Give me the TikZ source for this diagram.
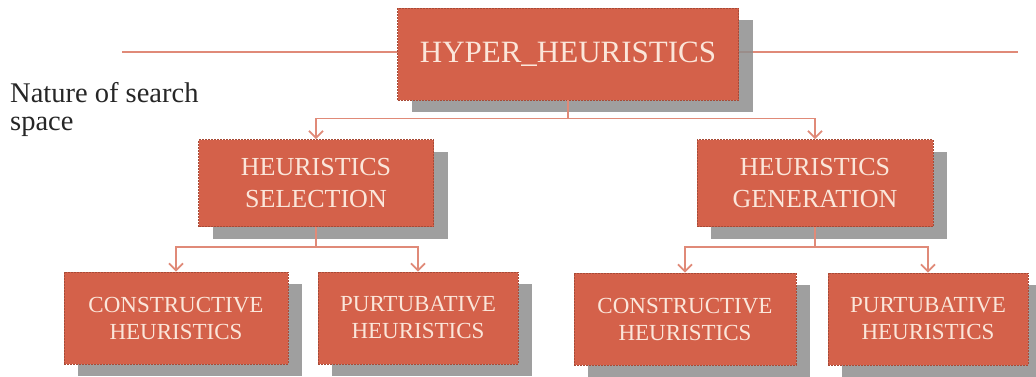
\documentclass[tikz,border=0pt]{standalone}
\usepackage{fontspec}
\setmainfont{Liberation Serif}
\usetikzlibrary{arrows.meta,shadows}
\definecolor{boxfill}{HTML}{D4614A}
\definecolor{boxedge}{HTML}{A84A36}
\definecolor{boxtext}{HTML}{FBE6DA}
\definecolor{linec}{HTML}{E08A78}
\definecolor{shade}{HTML}{8E8E8E}
\tikzset{
  hbox/.style={fill=boxfill, draw=boxedge, dash pattern=on 2pt off 1pt, line width=0.8pt,
    text=boxtext, align=center, inner sep=0pt,
    drop shadow={shadow xshift=14pt, shadow yshift=-12pt, fill=shade, opacity=0.85}},
  conn/.style={draw=linec, line width=1.8pt, -{Straight Barb[length=7pt,width=14pt,line width=1.8pt]}},
  rule/.style={draw=linec, line width=1.6pt}
}
\begin{document}
\begin{tikzpicture}[x=1pt,y=-1pt]
\useasboundingbox (0,0) rectangle (1036,376);
\coordinate (ruleL) at (122,52);
\coordinate (ruleR) at (1018,52);
\draw[rule] (ruleL) -- (ruleR);
\node[anchor=north west, align=left, font=\fontsize{28.5}{28}\selectfont, inner sep=0pt, text=black!85] (nat) at (10,82) {Nature of search\\space};
\node[hbox, minimum width=341pt, minimum height=92pt, font=\fontsize{31}{36}\selectfont] (top) at (568,54) {HYPER\_HEURISTICS};
\node[hbox, minimum width=235pt, minimum height=87pt, font=\fontsize{26}{32}\selectfont] (sel) at (316,183) {HEURISTICS\\SELECTION};
\node[hbox, minimum width=236pt, minimum height=87pt, font=\fontsize{26}{32}\selectfont] (gen) at (815,183) {HEURISTICS\\GENERATION};
\node[hbox, minimum width=224pt, minimum height=92pt, font=\fontsize{23}{27}\selectfont] (c1) at (176,318) {CONSTRUCTIVE\\HEURISTICS};
\node[hbox, minimum width=200pt, minimum height=92pt, font=\fontsize{23}{27}\selectfont] (p1) at (418,318) {PURTUBATIVE\\HEURISTICS};
\node[hbox, minimum width=222pt, minimum height=92pt, font=\fontsize{23}{27}\selectfont] (c2) at (685,319) {CONSTRUCTIVE\\HEURISTICS};
\node[hbox, minimum width=200pt, minimum height=92pt, font=\fontsize{23}{27}\selectfont] (p2) at (928,319) {PURTUBATIVE\\HEURISTICS};
\draw[conn] (top.south) -- ++(0,18) -| (sel.north);
\draw[conn] (top.south) -- ++(0,18) -| (gen.north);
\draw[conn] (sel.south) -- ++(0,20) -| (c1.north);
\draw[conn] (sel.south) -- ++(0,20) -| (p1.north);
\draw[conn] (gen.south) -- ++(0,20) -| (c2.north);
\draw[conn] (gen.south) -- ++(0,20) -| (p2.north);
\end{tikzpicture}
\end{document}
